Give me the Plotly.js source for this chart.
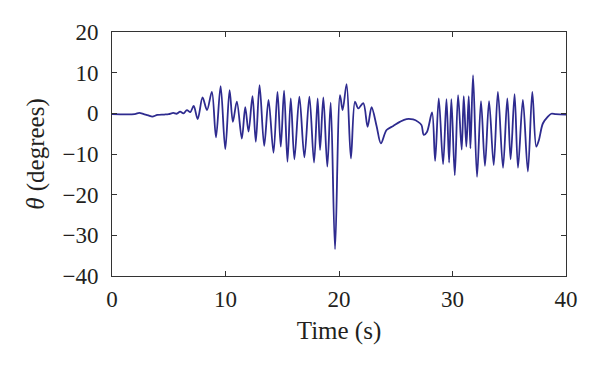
<!DOCTYPE html>
<html>
<head>
<meta charset="utf-8">
<script src="https://cdn.plot.ly/plotly-3.0.1.min.js"></script>
<style>html,body{margin:0;padding:0;background:#fff;}#chart{width:600px;height:365px;}</style>
</head>
<body>
<div id="chart"></div>
<script>
const time = [0, 2.0, 2.4, 2.8, 3.2, 3.55, 4.0, 4.6, 5.0, 5.4, 5.7, 6.0, 6.3, 6.6, 6.9, 7.2, 7.55, 7.98, 8.37, 8.8, 9.16, 9.57, 9.98, 10.36, 10.65, 11.0, 11.44, 11.74, 12.03, 12.38, 12.67, 13.0, 13.41, 13.79, 14.23, 14.58, 14.87, 15.16, 15.46, 15.75, 16.07, 16.51, 16.95, 17.39, 17.8, 18.12, 18.33, 18.62, 18.97, 19.27, 19.65, 20.09, 20.32, 20.67, 21.05, 21.41, 21.7, 22.14, 22.52, 22.87, 23.31, 23.69, 24.19, 24.78, 25.36, 25.95, 26.53, 26.97, 27.27, 27.47, 27.75, 28.2, 28.47, 28.79, 29.17, 29.47, 29.7, 29.9, 30.2, 30.49, 30.81, 30.99, 31.22, 31.43, 31.58, 31.81, 32.16, 32.51, 32.86, 33.22, 33.63, 34.0, 34.45, 34.83, 35.12, 35.47, 35.77, 36.2, 36.64, 37.03, 37.38, 37.61, 37.96, 38.4, 38.7, 39.1, 40];
const theta = [-0.2, -0.2, 0.1, -0.2, -0.5, -0.8, -0.4, -0.3, -0.2, 0.1, -0.1, 0.4, 0.0, 0.8, 0.3, 1.8, -1.4, 3.9, 0.8, 5.3, -5.9, 6.7, -8.8, 5.7, -2.1, 2.9, -6.2, 1.5, -4.5, 4.2, -7.0, 6.9, -8.0, 3.3, -9.7, 5.3, -8.2, 5.6, -11.9, 3.7, -11.3, 4.1, -10.8, 4.1, -12.1, 3.7, -9.0, 3.9, -13.1, 2.6, -33.4, 4.5, 0.8, 7.2, -11.1, 2.9, 1.2, 2.5, -3.3, 1.5, -3.1, -7.4, -4.1, -3.1, -2.1, -1.4, -1.5, -2.1, -2.9, -5.3, -4.6, 0.2, -11.7, 3.7, -12.5, 3.5, -12.1, 3.5, -15.2, 4.5, -8.9, 4.2, -8.2, 4.2, -8.6, 9.4, -15.6, 3.0, -12.9, 3.0, -12.7, 5.3, -13.4, 3.7, -11.3, 4.7, -13.4, 3.3, -14.3, 5.3, -8.2, -6.6, -2.5, -0.8, -0.1, -0.2, -0.3];
const xTicks = [0, 10, 20, 30, 40];
const yTicks = [-40, -30, -20, -10, 0, 10, 20];

const family = '"Liberation Serif", "DejaVu Serif", serif';
const tickFont = {family: family, size: 23, color: '#231f20'};
const titleFont = {family: family, size: 25, color: '#231f20'};
const axisCommon = {
  showline: true, mirror: 'ticks', linecolor: '#333', linewidth: 1,
  ticks: 'inside', ticklen: 5, tickcolor: '#333', tickwidth: 1,
  showgrid: false, zeroline: false, tickfont: tickFont
};

Plotly.newPlot('chart', [{
  x: time, y: theta, type: 'scatter', mode: 'lines',
  line: {color: '#2e2b8f', width: 1.8, shape: 'spline', smoothing: 0.9}
}], {
  width: 600, height: 365,
  margin: {l: 111.5, r: 33.5, t: 31.7, b: 89},
  paper_bgcolor: '#fff', plot_bgcolor: '#fff',
  showlegend: false,
  font: tickFont,
  xaxis: Object.assign({}, axisCommon, {
    range: [0, 40], tickvals: xTicks, ticklabelstandoff: 2,
    title: {text: 'Time (s)', font: titleFont, standoff: 10}
  }),
  yaxis: Object.assign({}, axisCommon, {
    range: [-40, 20], tickvals: yTicks, ticklabelstandoff: 8,
    title: {text: '<i>θ</i> (degrees)', font: titleFont, standoff: 10}
  })
}, {staticPlot: true, displayModeBar: false});
</script>
</body>
</html>
